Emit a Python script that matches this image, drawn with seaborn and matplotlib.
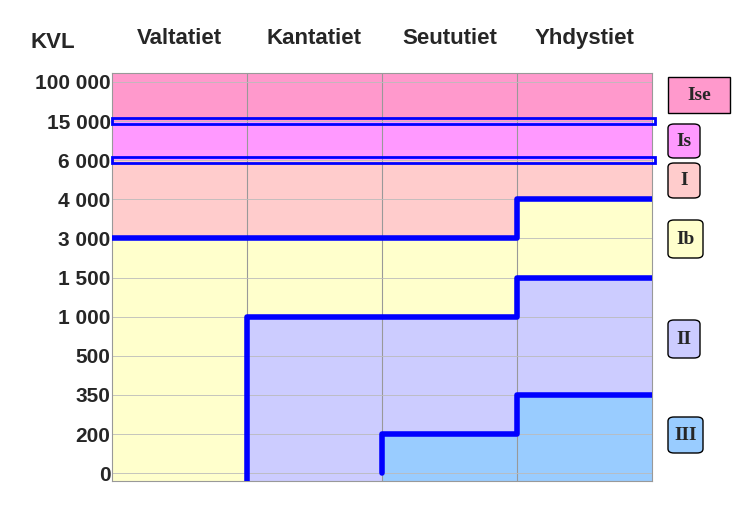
import matplotlib
matplotlib.use("Agg")
import matplotlib.pyplot as plt
import seaborn as sns
import pandas as pd
from matplotlib.patches import FancyBboxPatch, Rectangle

# tie types (columns) and KVL tick labels (rows, equally spaced)
road_types = ['Valtatiet', 'Kantatiet', 'Seututiet', 'Yhdystiet']
kvl_ticks = ['0', '200', '350', '500', '1 000', '1 500', '3 000', '4 000', '6 000', '15 000', '100 000']

Y_MIN, Y_MAX = -0.2, 10.23

# upper limit of each class per road type, as index into kvl_ticks
iii_top = [Y_MIN, Y_MIN, 1, 2]
ii_top = [Y_MIN, 4, 4, 5]
ib_top = [6, 6, 6, 7]
i_top = [8, 8, 8, 8]
is_top = [9, 9, 9, 9]

class_names = ['III', 'II', 'Ib', 'I', 'Is', 'Ise']
class_colors = ['#99ccff', '#ccccff', '#ffffcc', '#ffcccc', '#ff99ff', '#ff99cc']

BLUE = '#0000ff'

sns.set_style('white')
fig = plt.figure(figsize=(7.53, 5.2), dpi=100)
ax = fig.add_axes([112 / 753, 39 / 520, 540 / 753, 408 / 520])

x = range(len(road_types))
tops = [iii_top, ii_top, ib_top, i_top, is_top, [Y_MAX] * 4]
lower = [Y_MIN] * 4
for name, color, top in zip(class_names, class_colors, tops):
    top = [max(t, l) for t, l in zip(top, lower)]
    ax.bar(x, [t - l for t, l in zip(top, lower)], bottom=lower, width=1.0,
           color=color, align='center', linewidth=0)
    lower = top

# grid
for xv in [0.5, 1.5, 2.5]:
    ax.axvline(xv, color='#999999', lw=0.8)
for yv in range(11):
    ax.axhline(yv, color='#bbbbbb', lw=0.6)

# double lines at 6 000 and 15 000
for yv in [8, 9]:
    ax.add_patch(Rectangle((-0.5, yv - 0.07), 4.02, 0.14, fill=False,
                           edgecolor=BLUE, lw=2, clip_on=False, zorder=5))

# thick step lines between classes
steps = [
    pd.DataFrame({'x': [-0.5, 2.5, 2.5, 3.5], 'y': [6, 6, 7, 7]}),
    pd.DataFrame({'x': [0.5, 0.5, 2.5, 2.5, 3.5], 'y': [Y_MIN, 4, 4, 5, 5]}),
    pd.DataFrame({'x': [1.5, 1.5, 2.5, 2.5, 3.5], 'y': [0, 1, 1, 2, 2]}),
]
for df in steps:
    sns.lineplot(data=df, x='x', y='y', sort=False, estimator=None,
                 color=BLUE, lw=4, ax=ax, zorder=6)

ax.set_xlim(-0.5, 3.5)
ax.set_ylim(Y_MIN, Y_MAX)
ax.set_xlabel('')
ax.set_ylabel('')
ax.set_xticks([])
ax.set_yticks(range(11))
ax.set_yticklabels(kvl_ticks, fontsize=15, fontweight='bold', family='Liberation Sans')
ax.tick_params(axis='y', length=0, pad=1)
for s in ax.spines.values():
    s.set_color('#999999')
    s.set_linewidth(0.8)

# header
for i, name in enumerate(road_types):
    ax.text(i, 11.1, name, ha='center', va='center', fontsize=16,
            fontweight='bold', family='Liberation Sans')
fig.text(30 / 753, 1 - 42 / 520, 'KVL', ha='left', va='center', fontsize=16,
         fontweight='bold', family='Liberation Sans')

# class labels on the right (pixel boxes)
labels = [('Ise', 668, 77, 62, 36, False), ('Is', 668, 124, 32, 34, True),
          ('I', 668, 163, 32, 35, True), ('Ib', 668, 220, 35, 38, True),
          ('II', 668, 320, 32, 38, True), ('III', 668, 417, 35, 36, True)]
colmap = dict(zip(class_names, class_colors))
for name, px, py, w, h, rounded in labels:
    x0, y0 = px / 753, 1 - (py + h) / 520
    style = 'round,pad=0,rounding_size=0.008' if rounded else 'square,pad=0'
    fig.patches.append(FancyBboxPatch((x0, y0), w / 753, h / 520, boxstyle=style,
                                      transform=fig.transFigure, facecolor=colmap[name],
                                      edgecolor='black', lw=1))
    fig.text(x0 + w / 1506, y0 + h / 1040, name, ha='center', va='center',
             fontsize=14, fontweight='bold', family='Liberation Serif')

fig.savefig('out.png', dpi=100)
